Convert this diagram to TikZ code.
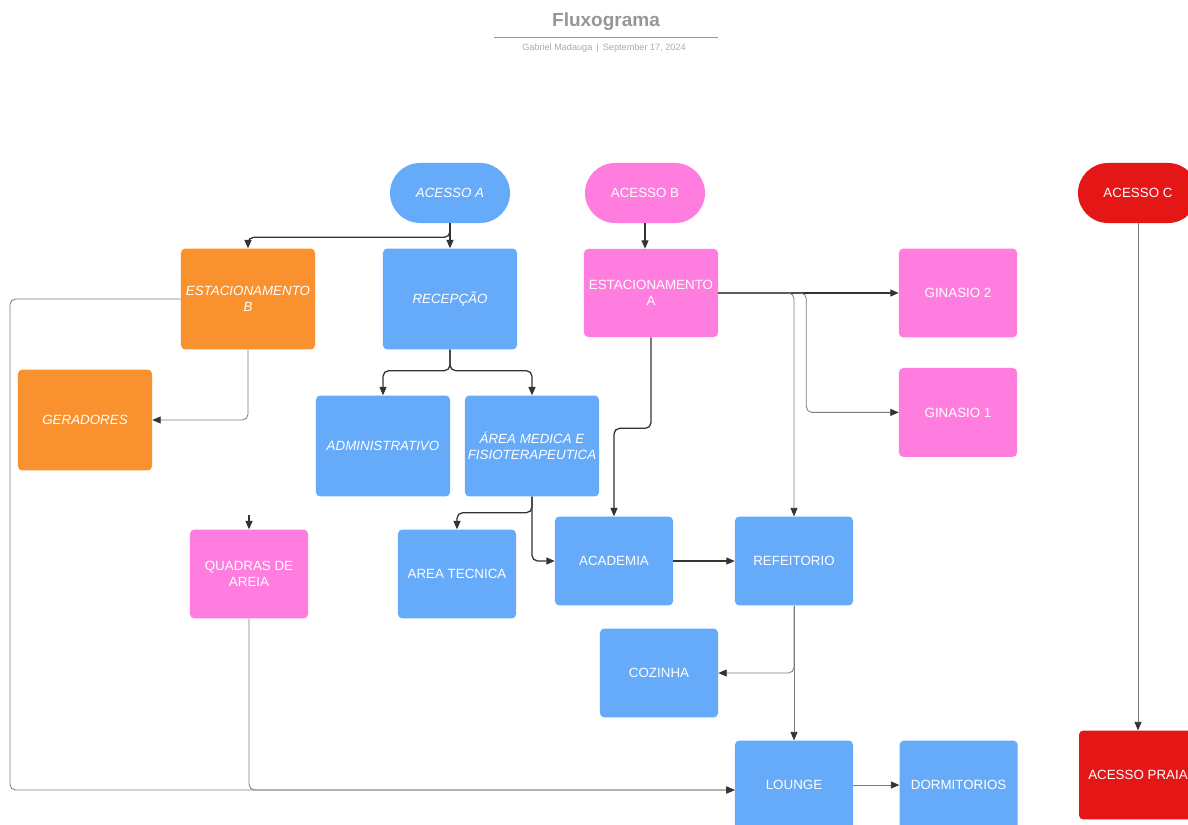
\documentclass[tikz,border=0pt]{standalone}
\usepackage{fontspec}
\setmainfont{Liberation Sans}
\usepackage{tikz}
\usetikzlibrary{positioning, arrows.meta, calc}

\definecolor{lblue}{RGB}{102,170,250}
\definecolor{lorange}{RGB}{248,145,46}
\definecolor{lpink}{RGB}{255,125,222}
\definecolor{lred}{RGB}{228,22,22}
\definecolor{linkdark}{RGB}{51,51,51}
\definecolor{linkgray}{RGB}{125,125,125}
\definecolor{titlegray}{RGB}{150,150,150}

\begin{document}
\begin{tikzpicture}[x=0.025cm, y=-0.025cm, node distance=1.15cm,
			box/.style={rectangle, rounded corners=3pt, text=white, align=center, inner sep=2pt,
				font=\fontsize{9.5}{11.5}\selectfont},
			big/.style={box, minimum width=3.35cm, minimum height=2.52cm},
			small/.style={box, minimum width=2.95cm, minimum height=2.22cm},
			pill/.style={box, minimum width=3cm, minimum height=1.5cm, rounded corners=0.75cm},
			ital/.style={font=\fontsize{9.5}{11.5}\selectfont\itshape},
			link/.style={draw=linkdark, line width=0.9pt, rounded corners=4pt,
				-{Triangle[length=6pt, width=5pt, color=linkdark]}},
			thin/.style={link, draw=linkgray, line width=0.6pt}]
			\useasboundingbox[fill=white] (0,0) rectangle (1188,824);
			% titulo
			\node[font=\fontsize{13.5}{16}\selectfont\bfseries, text=titlegray] (title) at (606,22) {Fluxograma};
			\draw[titlegray, line width=0.6pt] (494,37) -- (718,37);
			\node[font=\fontsize{6.5}{8}\selectfont, text=titlegray!80] (sub) at (604,48) {Gabriel Madauga \,|\, September 17, 2024};
			% acessos
			\node[pill, fill=lblue, ital] (acA) at (450,193) {ACESSO A};
			\node[pill, fill=lpink] (acB) at (645,193) {ACESSO B};
			\node[pill, fill=lred] (acC) at (1138,193) {ACESSO C};
			% linha 1
			\node[big, fill=lorange, ital] (estB) at (248,299) {ESTACIONAMENTO\\B};
			\node[big, fill=lblue, ital] (rec) at (450,299) {RECEPÇÃO};
			\node[big, fill=lpink, minimum height=2.2cm] (estA) at (651,293) {ESTACIONAMENTO\\A};
			\node[small, fill=lpink] (gin2) at (958,293) {GINASIO 2};
			\node[small, fill=lpink, below=0.75cm of gin2] (gin1) {GINASIO 1};
			% linha 2
			\node[big, fill=lorange, ital] (ger) at (85,420) {GERADORES};
			\node[big, fill=lblue, ital] (adm) at (383,446) {ADMINISTRATIVO};
			\node[big, fill=lblue, ital] (med) at (532,446) {ÁREA MEDICA E\\FISIOTERAPEUTICA};
			% linha 3
			\node[small, fill=lpink] (quad) at (249,574) {QUADRAS DE\\AREIA};
			\node[small, fill=lblue] (tec) at (457,574) {AREA TECNICA};
			\node[small, fill=lblue] (acad) at (614,561) {ACADEMIA};
			\node[small, fill=lblue] (ref) at (794,561) {REFEITORIO};
			\node[small, fill=lblue] (coz) at (659,673) {COZINHA};
			% linha 4
			\node[small, fill=lblue] (lounge) at (794,785) {LOUNGE};
			\node[small, fill=lblue, right=of lounge] (dorm) {DORMITORIOS};
			\node[small, fill=lred] (praia) at (1138,775) {ACESSO PRAIA};
			\coordinate (lft) at (10,790);
			\coordinate (qtop) at (249,515);
			% conexoes
			\draw[link] (acA.south) -- ++(0,14) -| (estB.north);
			\draw[link] (acA.south) -- (rec.north);
			\draw[link] (acB.south) -- (acB.south |- estA.north);
			\draw[link] (rec.south) -- ++(0,21) -| (adm.north);
			\draw[link] (rec.south) -- ++(0,21) -| (med.north);
			\draw[thin] (estB.south) |- (ger.east);
			\draw[thin] (estB.west) -| (lft) -- (lounge.west |- lft);
			\draw[thin] (quad.south) |- (lounge.west |- lft);
			\draw[link] (qtop) -- (quad.north);
			\draw[link] (estA.east) -- (gin2.west);
			\draw[thin] (estA.east) -| (ref.north);
			\draw[thin] (estA.east) -- ++(88,0) |- (gin1.west);
			\draw[link] (estA.south) -- ++(0,91) -| (acad.north);
			\draw[link] (med.south) -- ++(0,16) -| (tec.north);
			\draw[link] (med.south) |- (acad.west);
			\draw[link] (acad) -- (ref);
			\draw[thin] (ref) -- (lounge);
			\draw[thin] (ref.south) |- (coz.east);
			\draw[thin] (lounge) -- (dorm);
			\draw[thin] (acC.south) -- (acC.south |- praia.north);
		\end{tikzpicture}
\end{document}
